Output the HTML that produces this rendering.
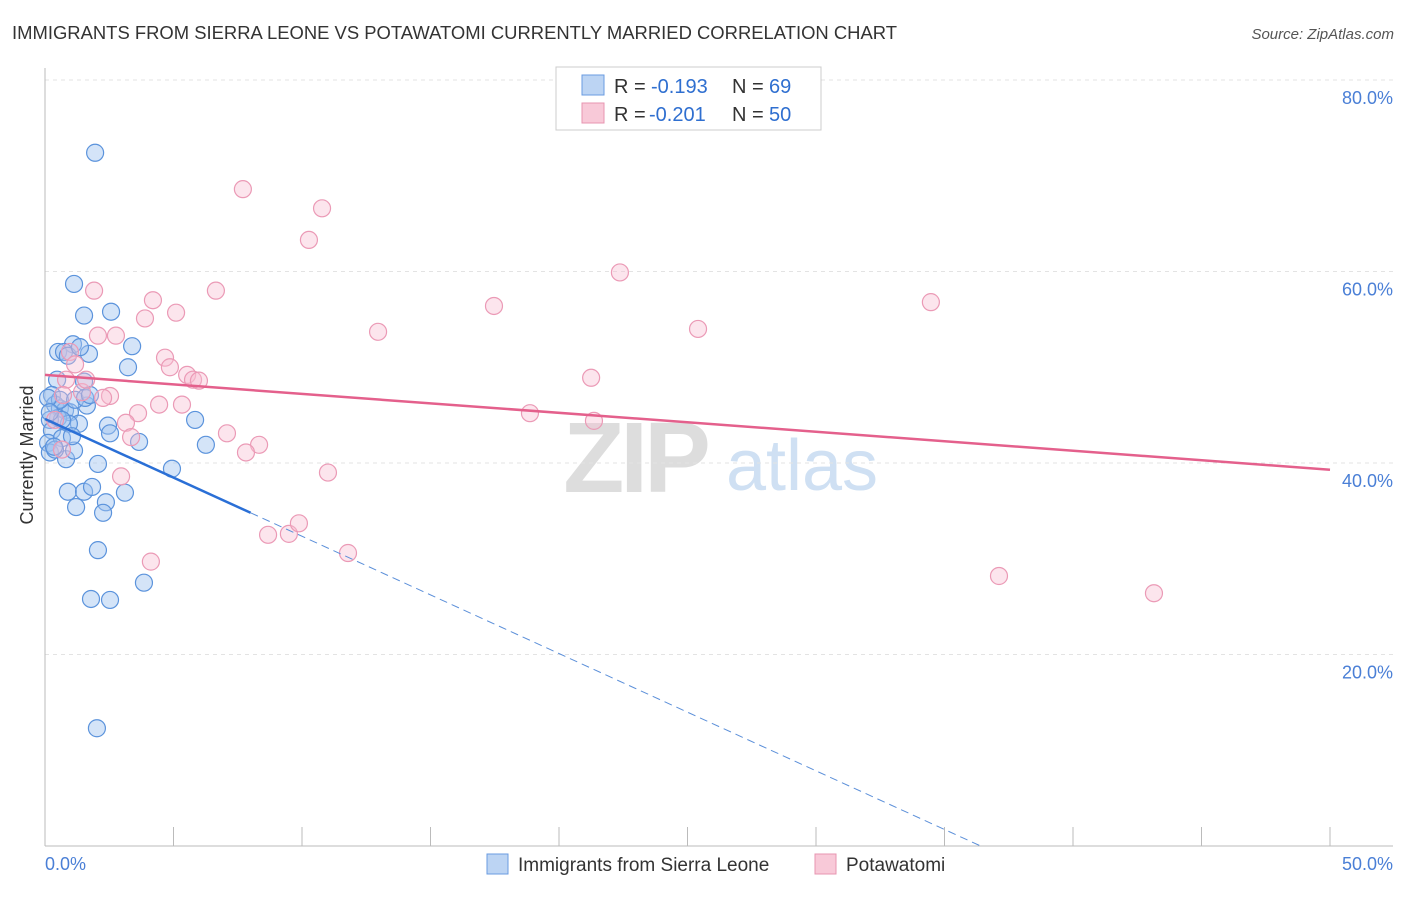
<!DOCTYPE html>
<html><head><meta charset="utf-8"><style>
body{margin:0;background:#fff;font-family:"Liberation Sans",sans-serif;}
svg text{font-family:"Liberation Sans",sans-serif;}
</style></head><body>
<svg width="1406" height="892">
<text x="12" y="39" font-size="18" fill="#333" textLength="885" lengthAdjust="spacingAndGlyphs">IMMIGRANTS FROM SIERRA LEONE VS POTAWATOMI CURRENTLY MARRIED CORRELATION CHART</text>
<text x="1394" y="39" font-size="15" fill="#555" text-anchor="end" font-style="italic">Source: ZipAtlas.com</text>
<g><text x="635" y="492" font-size="100" fill="#ddd" text-anchor="middle" font-family="Liberation Serif" font-weight="bold" letter-spacing="-4">ZIP</text><text x="802" y="490" font-size="72" fill="#cfe0f3" text-anchor="middle">atlas</text></g>
<g id="grid"></g><g id="axes"></g>
<g id="marks"></g>
<text transform="translate(33,455) rotate(-90)" font-size="18" fill="#333" text-anchor="middle">Currently Married</text>
<g>
<rect x="556" y="67" width="265" height="63" fill="#fff" stroke="#ccc"/>
<rect x="582" y="75" width="22" height="20" fill="#bcd4f3" stroke="#6a9be0"/>
<text x="614" y="93" font-size="20" fill="#333">R =</text><text x="651" y="93" font-size="20" fill="#2f6fd0">-0.193</text>
<text x="732" y="93" font-size="20" fill="#333">N =</text><text x="769" y="93" font-size="20" fill="#2f6fd0">69</text>
<rect x="582" y="103" width="22" height="20" fill="#f8c9d8" stroke="#e795b0"/>
<text x="614" y="121" font-size="20" fill="#333">R =</text><text x="649" y="121" font-size="20" fill="#2f6fd0">-0.201</text>
<text x="732" y="121" font-size="20" fill="#333">N =</text><text x="769" y="121" font-size="20" fill="#2f6fd0">50</text>
</g>
<g>
<rect x="487" y="854" width="21" height="20" fill="#bcd4f3" stroke="#6a9be0"/>
<text x="518" y="871" font-size="19" fill="#333">Immigrants from Sierra Leone</text>
<rect x="815" y="854" width="21" height="20" fill="#f8c9d8" stroke="#e795b0"/>
<text x="846" y="871" font-size="19" fill="#333">Potawatomi</text>
</g>
</svg>
<script>
const yTicks=[20,40,60,80];
const xTickLabels=["0.0%","50.0%"];
const blueX=[1.95,1.13,1.52,2.57,3.39,3.23,1.71,1.09,0.51,0.74,0.89,1.36,0.47,1.52,0.27,0.39,0.58,0.78,0.97,0.51,0.19,1.63,1.32,0.93,2.45,2.53,3.66,5.84,6.26,4.94,2.06,0.82,1.13,0.27,0.12,0.66,0.19,0.39,0.89,1.52,1.83,3.11,1.21,2.37,2.26,2.06,3.85,1.79,2.53,2.02,0.58,1.17,1.56,0.12,0.35,1.05,0.66,1.75,0.19];
const blueY=[72.4,58.7,55.4,55.8,52.2,50.0,51.4,52.4,51.6,51.6,51.2,52.1,48.7,48.5,47.1,46.1,45.7,45.5,45.3,44.7,44.5,46.0,44.1,44.1,43.9,43.1,42.2,44.5,41.9,39.4,39.9,40.4,41.3,43.4,42.1,42.6,41.1,41.4,37.0,37.0,37.5,36.9,35.4,35.9,34.8,30.9,27.5,25.8,25.7,12.3,46.6,46.6,46.8,46.8,41.7,42.8,44.5,47.1,45.3];
const pinkX=[7.70,10.78,10.27,22.37,17.47,34.47,25.41,12.96,6.65,4.20,5.10,3.89,1.91,2.06,2.76,4.67,4.86,5.53,5.76,5.99,21.25,2.53,2.26,1.44,1.60,0.82,0.97,1.17,4.44,5.33,3.62,3.15,3.35,7.08,8.33,7.82,18.87,21.36,11.01,2.96,8.68,9.49,9.88,11.79,4.12,37.12,43.15,0.70,0.39,0.66];
const pinkY=[68.6,66.6,63.3,59.9,56.4,56.8,54.0,53.7,58.0,57.0,55.7,55.1,58.0,53.3,53.3,51.0,50.0,49.2,48.7,48.6,48.9,47.0,46.8,47.4,48.7,48.7,51.6,50.3,46.1,46.1,45.2,44.2,42.7,43.1,41.9,41.1,45.2,44.4,39.0,38.6,32.5,32.6,33.7,30.6,29.7,28.2,26.4,47.1,44.5,41.4];
const pinkTrend=[49.2,39.3];
const blueTrend=[44.6,-1.225];
const NS="http://www.w3.org/2000/svg";
const X=v=>45+v/50*1285, Y=v=>846-v*9.575;
function mk(t,a,p){const e=document.createElementNS(NS,t);for(const k in a)e.setAttribute(k,a[k]);p.appendChild(e);return e;}
const grid=document.getElementById('grid'),axes=document.getElementById('axes'),marks=document.getElementById('marks');
yTicks.forEach(t=>{const l=mk('line',{x1:45,x2:1393,y1:Y(t),y2:Y(t),stroke:'#e3e3e3','stroke-dasharray':'4,4'},grid);


const tx=mk('text',{x:1393,y:Y(t)+24,'font-size':18,fill:'#4a7fd6','text-anchor':'end'},axes);tx.textContent=t.toFixed(1)+'%';

});
mk('line',{x1:45,x2:1393,y1:846,y2:846,stroke:'#bbb'},axes);
mk('line',{x1:45,x2:45,y1:68,y2:846,stroke:'#bbb'},axes);
for(let i=0;i<=10;i++){mk('line',{x1:X(i*5),x2:X(i*5),y1:827,y2:846,stroke:'#bbb'},axes);}
xTickLabels.forEach((s,i)=>{const tx=mk('text',{x:i?1393:45,y:870,'font-size':18,fill:'#4a7fd6','text-anchor':i?'end':'start'},axes);tx.textContent=s;

});
blueX.forEach((x,i)=>{const c=mk('circle',{cx:X(x),cy:Y(blueY[i]),r:8.5,fill:'rgba(160,195,240,0.45)',stroke:'#5b93dc','stroke-width':1.2},marks);

});
pinkX.forEach((x,i)=>{const c=mk('circle',{cx:X(x),cy:Y(pinkY[i]),r:8.5,fill:'rgba(248,190,210,0.4)',stroke:'#eb9ab6','stroke-width':1.2},marks);

});
const pl=mk('line',{x1:X(0),y1:Y(pinkTrend[0]),x2:X(50),y2:Y(pinkTrend[1]),stroke:'#e4608c','stroke-width':2.5},marks);


const bx1=8, bx2=-blueTrend[0]/blueTrend[1];
const bl=mk('line',{x1:X(0),y1:Y(blueTrend[0]),x2:X(bx1),y2:Y(blueTrend[0]+blueTrend[1]*bx1),stroke:'#2a6fd6','stroke-width':2.5},marks);


const bd=mk('line',{x1:X(bx1),y1:Y(blueTrend[0]+blueTrend[1]*bx1),x2:X(bx2),y2:Y(0),stroke:'#5b8fd9','stroke-width':1,'stroke-dasharray':'8,5'},marks);


</script>
</body></html>
